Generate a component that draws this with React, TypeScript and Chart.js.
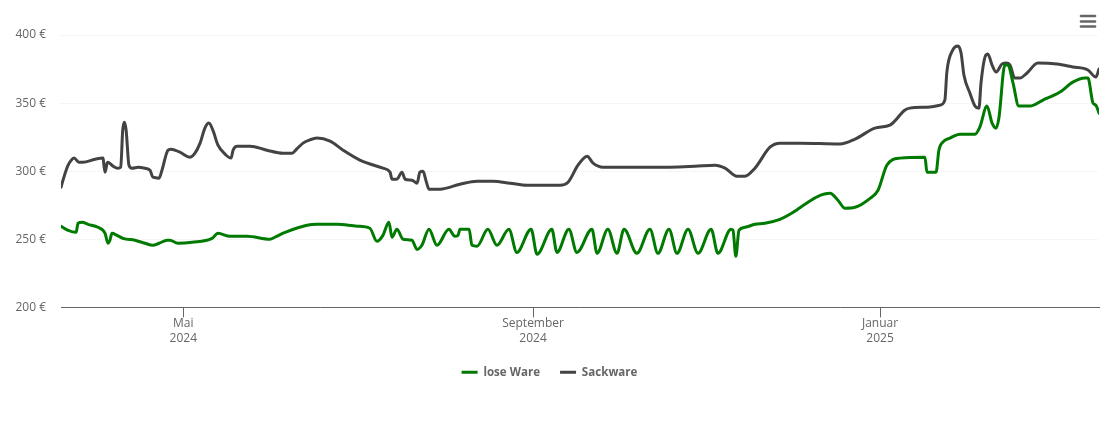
import { useEffect, useRef } from "react"
import { Chart, registerables } from "chart.js"

Chart.register(...registerables)

// days counted from 19 March 2024
const tickDays = [43, 166, 288]
const tickLabels = [["Mai", "2024"], ["September", "2024"], ["Januar", "2025"]]

const loseDays = [
  0, 2.5, 5.3, 6, 7.4, 9.5, 13, 15.5, 16.5, 17.2, 17.9, 19.7, 21.8, 26, 29.5, 32.3, 34.5, 37.3, 38.3, 41.1,
  46.1, 53.1, 55.2, 59.4, 65.4, 73.5, 75.2, 78.8, 86.5, 90, 97, 104.1, 108.6, 111.1, 113.2, 115.3, 116.4, 118.1,
  120.3, 123.4, 125.2, 126.9, 129.4, 132.2, 136.4, 138.5, 139.6, 140.3, 143.5, 144.5, 146.3, 150.1, 153.3, 157.5,
  160.3, 165.3, 167.4, 172.6, 174.4, 178.6, 181.4, 186.7, 188.5, 192.3, 195.5, 198, 202.5, 207.1, 209.9, 213.8,
  216.6, 220.5, 224, 228.6, 231, 235.6, 236.3, 237.3, 238.4, 240.5, 244, 247.5, 252.8, 256.3, 261.6, 266.2, 270.4,
  273.2, 275.7, 279.2, 284.5, 287.3, 290.4, 295, 303.8, 304.5, 307.7, 308.7, 310.5, 312.6, 316.1, 321.4, 323.1, 325.6,
  327.4, 328.8, 329.8, 331.9, 333, 334.7, 336.8, 340.7, 345.3, 351.3, 355.8, 360.1, 361.1, 362.9, 363.9, 365,
]
const loseValues = [
  259.6, 256.6, 255.1, 261.8, 262.5, 261, 258.8, 254.4, 247.1, 249.3, 254.4, 252.9, 250.7, 249.3, 247.1, 245.6, 247.1, 249.3, 249.3, 247.1,
  247.8, 250.7, 254.4, 252.2, 252.2, 250, 251.5, 255.1, 260.3, 261, 261, 259.6, 258.1, 248.5, 252.9, 262.5, 251.5, 257.4,
  250, 249.3, 242.6, 245.6, 257.4, 245.6, 257.4, 252.2, 252.9, 257.4, 257.4, 245.6, 244.9, 257.4, 245.6, 257.4,
  240.4, 257.4, 239, 257.4, 240.4, 257.4, 240.4, 257.4, 239.7, 257.4, 239.7, 257.4, 239.7, 257.4, 239.7, 257.4,
  239.7, 257.4, 239.7, 257.4, 239.7, 257.4, 256.6, 237.5, 256.6, 258.8, 261, 261.8, 264.7, 268.4, 275.7, 281.6, 283.8,
  278.7, 272.8, 273.5, 280.1, 286, 304.4, 309.6, 310.3, 299.3, 299.3, 315.4, 322.1, 324.3, 327.2, 327.2, 332.4, 347.8,
  335.3, 331.6, 339, 377.9, 377.9, 365.4, 347.8, 347.8, 352.2, 358.1, 365.4, 368.4, 368.4, 350, 348.5, 342.6,
]

const sackDays = [
  0, 0.7, 2.5, 3.9, 4.6, 6.3, 7.7, 12, 14.8, 15.1, 15.5, 16.2, 16.5, 18.3, 20, 21, 21.7, 22.3, 22.9, 23.9, 25, 27.1,
  29.5, 31.3, 32.3, 34.5, 35.5, 37.6, 38.6, 41.8, 45.4, 47.1, 48.9, 50.6, 52, 53.4, 55.2, 57.7, 59.8, 60.5, 61.9,
  64.3, 66.5, 72.4, 78.1, 81.2, 83, 85.1, 87.5, 90, 94.6, 99.2, 105.1, 113.2, 115.7, 116.4, 118.1, 119.9, 121, 123.4, 125.2,
  126.2, 127.3, 128.3, 129.4, 133.3, 140.3, 146.3, 151.9, 157.9, 163.9, 175.5, 178.3, 181.8, 185, 187.1, 190.6,
  208.9, 222.9, 230, 233.5, 237.7, 240.5, 244, 249.3, 252.8, 259.8, 273.9, 279.2, 286.2, 291.5, 296.8, 298.5, 305.6,
  309.1, 310.8, 311.5, 313.6, 315.4, 316.5, 317.5, 319.6, 321.4, 322.8, 323.5, 325.2, 325.9, 327.4, 328.8, 330.9,
  332.6, 333.7, 335.4, 337.2, 339.7, 343.5, 350.2, 355.8, 361.1, 363.9, 365,
]
const sackValues = [
  288.2, 293.4, 304.4, 308.8, 309.6, 306.6, 306.6, 308.8, 309.6, 304.4, 299.3, 305.9, 306.6, 303.7, 302.2, 302.9, 330.1, 336, 330.1, 304.4, 302.2, 302.9,
  302.2, 300.7, 295.6, 294.9, 300.7, 315.4, 316.2, 314, 310.3, 313.2, 320.6, 331.6, 335.3, 330.1, 319.1, 312.5, 309.6, 315.4, 318.4,
  318.4, 318.4, 315.4, 313.2, 313.2, 316.5, 320.6, 323, 324.3, 322.1, 315.4, 308.1, 302.2, 299.3, 294.1, 294.1, 299.3, 294.1, 293.4, 291.2,
  299.3, 300, 293.4, 286.8, 286.8, 290.4, 292.6, 292.6, 291.2, 289.7, 289.7, 291.9, 304.4, 311, 305.9, 302.9,
  302.9, 303.7, 304.4, 302.2, 296.3, 296.3, 302.2, 317.6, 320.6, 320.6, 319.9, 323.5, 331.6, 333.8, 344.9, 346.3, 347.1,
  348.5, 352.2, 372.8, 389, 391.9, 386.8, 370.6, 357.4, 347.8, 346.3, 364.7, 385.3, 386, 377.9, 372.8, 378.7,
  379.4, 377.9, 368.4, 368.4, 372.1, 379.4, 378.7, 376.5, 374.3, 369.1, 375,
]

const toPoints = (days: number[], values: number[]) => days.map((x, i) => ({ x, y: values[i] }))

// the export menu icon top right
const menuIcon = {
  id: "menuIcon",
  afterDraw(chart: Chart) {
    const ctx = chart.ctx
    ctx.save()
    ctx.strokeStyle = "#666666"
    ctx.lineWidth = 2.6
    ctx.lineCap = "round"
    for (const y of [16, 21.5, 26.5]) {
      ctx.beginPath()
      ctx.moveTo(1081, y)
      ctx.lineTo(1095, y)
      ctx.stroke()
    }
    ctx.restore()
  },
}

export default function App() {
  const chartRef = useRef<HTMLCanvasElement>(null)

  useEffect(() => {
    document.body.style.margin = "0"
    if (!chartRef.current) return

    const chart = new Chart(chartRef.current, {
      type: "line",
      plugins: [menuIcon],
      data: {
        datasets: [
          {
            label: "lose Ware",
            data: toPoints(loseDays, loseValues),
            borderColor: "#007a00",
            backgroundColor: "#007a00",
          },
          {
            label: "Sackware",
            data: toPoints(sackDays, sackValues),
            borderColor: "#434343",
            backgroundColor: "#434343",
          },
        ].map((d) => ({
          ...d,
          borderWidth: 3,
          borderCapStyle: "round" as const,
          borderJoinStyle: "round" as const,
          cubicInterpolationMode: "monotone" as const,
          pointRadius: 0,
          pointStyle: "line",
        })),
      },
      options: {
        responsive: false,
        animation: false,
        layout: { padding: { top: 35, right: 11, bottom: 34, left: 0 } },
        scales: {
          x: {
            type: "linear",
            min: 0,
            max: 365,
            afterBuildTicks: (axis) => {
              axis.ticks = tickDays.map((value) => ({ value }))
            },
            afterFit: (axis) => {
              axis.height = 39
            },
            ticks: {
              autoSkip: false,
              maxRotation: 0,
              padding: -2,
              color: "#666666",
              font: { family: "'Open Sans'", size: 12, lineHeight: 1.3 },
              callback: (value) => tickLabels[tickDays.indexOf(Number(value))],
            },
            grid: { drawOnChartArea: false, tickLength: 10, tickColor: "#666666", tickWidth: 1 },
            border: { color: "#666666", width: 1 },
          },
          y: {
            min: 200,
            max: 400,
            afterFit: (axis) => {
              axis.width = 61
            },
            ticks: {
              stepSize: 50,
              padding: 15,
              color: "#666666",
              font: { family: "'Open Sans'", size: 12 },
              callback: (value) => `${value} €`,
            },
            grid: { color: "#ececec", drawTicks: false, tickLength: 0 },
            border: { display: false, dash: [1, 1] },
          },
        },
        plugins: {
          tooltip: { enabled: false },
          legend: {
            position: "bottom",
            labels: {
              usePointStyle: true,
              pointStyleWidth: 16,
              padding: 20,
              color: "#666666",
              font: { family: "'Open Sans'", size: 11.6, weight: "bold" },
            },
          },
        },
      },
    })

    return () => chart.destroy()
  }, [])

  return (
    <div style={{ width: 1110, height: 422 }}>
      <canvas ref={chartRef} width={1110} height={422} style={{ display: "block" }} />
    </div>
  )
}
